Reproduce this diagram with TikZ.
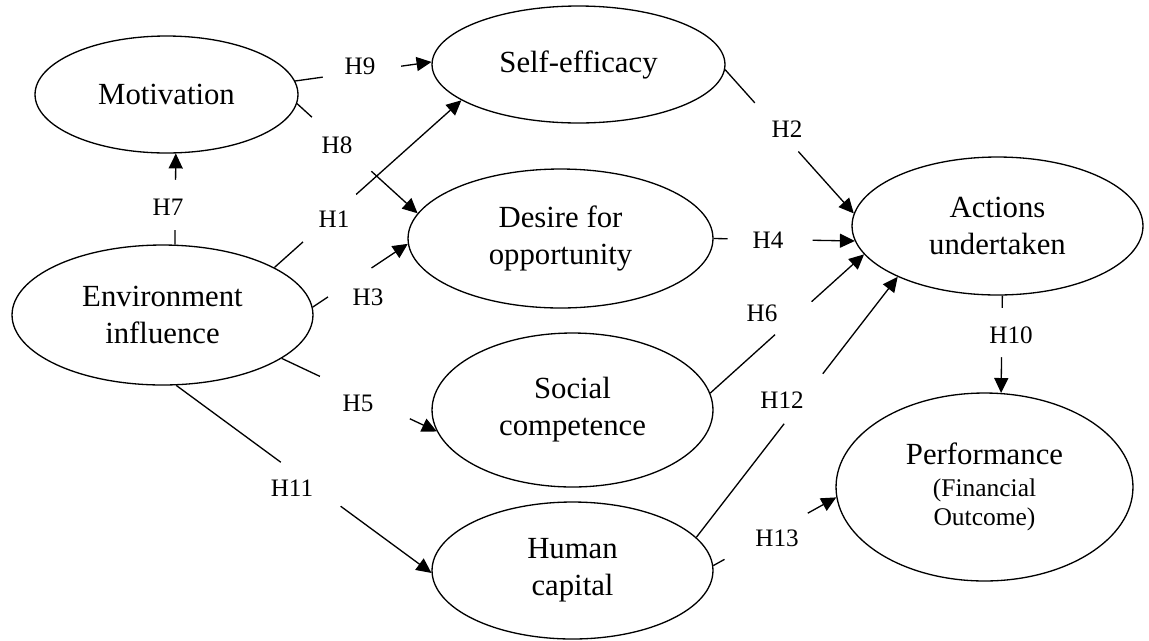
\documentclass[tikz,border=0pt]{standalone}
\usepackage{fontspec}
\setmainfont{Liberation Serif}
\usetikzlibrary{shapes.geometric, arrows.meta}

\newcommand{\subtext}{\fontsize{14.5}{17}\selectfont}

\tikzset{
  construct/.style={
    ellipse, draw, line width=0.75pt, inner sep=0pt, align=center,
    font=\fontsize{17.5}{21}\selectfont
  },
  hyplabel/.style={
    font=\fontsize{14.3}{17}\selectfont, inner sep=0pt
  },
  link/.style={
    -{Triangle[length=8.5pt, width=8pt]}, line width=0.75pt
  },
  cutout/.style={
    sloped, fill=white, inner sep=0pt, minimum height=4pt, minimum width=#1
  },
}

\begin{document}
\begin{tikzpicture}[x=0.02cm, y=-0.02cm]
\useasboundingbox (0,0) rectangle (1149,640);

% ---- constructs ----
\node[construct, minimum width=5.26cm, minimum height=2.34cm] (mot) at (166.5,94.5) {Motivation};
\node[construct, minimum width=6.02cm, minimum height=2.80cm] (env) at (162.5,315) {Environment\\influence};
\node[construct, minimum width=5.86cm, minimum height=2.34cm] (self) at (578.5,64.5) {Self-efficacy};
\node[construct, minimum width=6.10cm, minimum height=2.78cm] (desire) at (560.5,238.5) {Desire for\\opportunity};
\node[construct, minimum width=5.62cm, minimum height=3.08cm] (social) at (572.5,410) {Social\\competence};
\node[construct, minimum width=5.62cm, minimum height=2.74cm] (human) at (572.5,570.5) {Human\\capital};
\node[construct, minimum width=5.82cm, minimum height=2.76cm] (actions) at (997.5,226) {Actions\\undertaken};
\node[construct, minimum width=5.94cm, minimum height=3.76cm] (perf) at (984.5,487)
  {Performance\\[-3pt]{\subtext (Financial}\\[-4pt]{\subtext Outcome)}};

% ---- hypothesised paths ----
\draw[link] (env.80) -- node[cutout=1.0cm, pos=.435] (g7) {} (mot.-81);
\draw[link] (mot.6) -- node[cutout=1.58cm, pos=.49] (g9) {} (self.179);
\draw[link] (mot.-4) -- node[cutout=1.6cm, pos=.37] (g8) {} (desire.170);
\draw[link] (env.23.5) -- node[cutout=1.42cm, pos=.295] (g1) {} (self.-163);
\draw[link] (env.3) -- node[cutout=1.04cm, pos=.39] (g3) {} (desire.-178);
\draw[link] (env.-20) -- node[cutout=1.98cm, pos=.536] (g5) {} (social.-171);
\draw[link] (env.-79.5) -- node[cutout=1.48cm, pos=.527] (g11) {} (human.-179);
\draw[link] (self.-2) -- node[cutout=1.3cm, pos=.40] (g2) {} (actions.175.5);
\draw[link] (desire.0) -- node[cutout=1.7cm, pos=.40] (g4) {} (actions.-174.5);
\draw[link] (social.7) -- node[cutout=0.98cm, pos=.54] (g6) {} (actions.-168);
\draw[link] (human.15) -- node[cutout=1.26cm, pos=.532] (g12) {} (actions.-153);
\draw[link] (human.2) -- node[cutout=1.9cm, pos=.43] (g13) {} (perf.-176);
\draw[link] (actions.-86) -- node[cutout=0.98cm, pos=.38] (g10) {} (perf.80);

% ---- labels ----
\node[hyplabel] (h7) at (168,207) {H7};
\node[hyplabel] (h9) at (360,66) {H9};
\node[hyplabel] (h8) at (337,145) {H8};
\node[hyplabel] (h1) at (334,219) {H1};
\node[hyplabel] (h3) at (368,297) {H3};
\node[hyplabel] (h5) at (358,403) {H5};
\node[hyplabel] (h11) at (292,488) {H11};
\node[hyplabel] (h2) at (787,129) {H2};
\node[hyplabel] (h4) at (768,240) {H4};
\node[hyplabel] (h6) at (762,313) {H6};
\node[hyplabel] (h12) at (782,400) {H12};
\node[hyplabel] (h13) at (777,538) {H13};
\node[hyplabel] (h10) at (1011,335) {H10};

\end{tikzpicture}
\end{document}
